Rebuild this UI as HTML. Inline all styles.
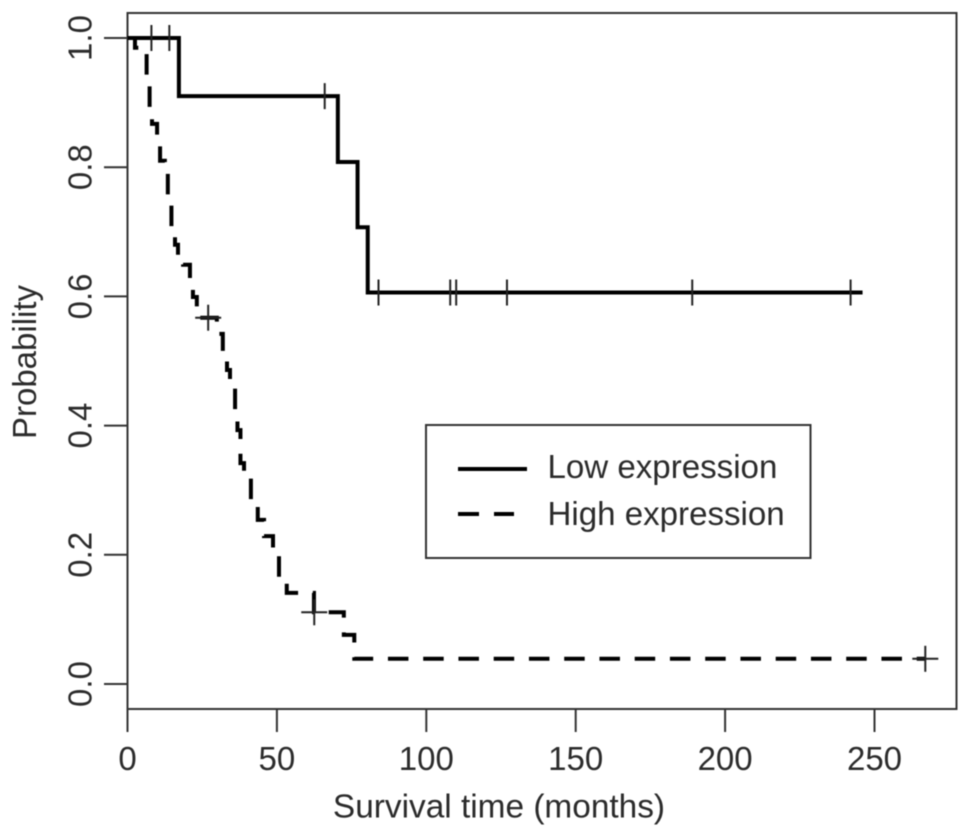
<!DOCTYPE html>
<html>
<head>
<meta charset="utf-8">
<style>
html,body{margin:0;padding:0;background:#fff;}
svg{display:block;filter:blur(0.45px);}
text{font-family:"Liberation Sans",Arial,sans-serif;fill:#2b2b2b;}
</style>
</head>
<body>
<svg id="chart" width="970" height="836" viewBox="0 0 970 836" xmlns="http://www.w3.org/2000/svg">
  <rect x="127.5" y="13" width="829" height="696" fill="none" stroke="#333" stroke-width="2"/>
  <g id="axes"></g>
  <text x="499" y="817.5" font-size="33.4" text-anchor="middle">Survival time (months)</text>
  <text transform="translate(36,362) rotate(-90)" font-size="33" text-anchor="middle">Probability</text>
  <g id="series"></g>
  <g>
    <rect x="426" y="425" width="384.5" height="133" fill="#fff" stroke="#333" stroke-width="2"/>
    <line x1="458" y1="469" x2="527" y2="469" stroke="#000" stroke-width="4"/>
    <line x1="458" y1="514" x2="527" y2="514" stroke="#000" stroke-width="4" stroke-dasharray="21 15 20 40"/>
    <text x="547.5" y="478" font-size="33.1">Low expression</text>
    <text x="547.5" y="525" font-size="33.1">High expression</text>
  </g>
</svg>
<script>
const xTicks = [0, 50, 100, 150, 200, 250];
const yTicks = ["0.0", "0.2", "0.4", "0.6", "0.8", "1.0"];
const lowTimes = [17.2, 70.4, 77, 80.4];
const lowSurv = [0.91, 0.808, 0.707, 0.606];
const lowEnd = 246;
const lowCensorTimes = [8, 14, 66, 84, 108, 110, 127, 189, 242];
const highTimes = [2.5, 6.4, 7.4, 8.2, 9.9, 10.9, 12.5, 13.5, 14.7, 15.9, 16.9, 18.6, 20.9, 21.9, 23.2, 29.9, 31.9, 33.3, 34.3, 36.0, 36.8, 37.8, 39.0, 41.3, 43.6, 45.7, 48.7, 50.7, 53.3, 62.4, 72.4, 75.9];
const highSurv = [0.985, 0.935, 0.889, 0.867, 0.842, 0.810, 0.796, 0.749, 0.703, 0.680, 0.659, 0.649, 0.622, 0.599, 0.567, 0.542, 0.505, 0.486, 0.464, 0.418, 0.393, 0.342, 0.322, 0.277, 0.254, 0.229, 0.204, 0.161, 0.141, 0.111, 0.076, 0.039];
const highEnd = 267;
const highCensorTimes = [27, 62.5, 267];

const NS = "http://www.w3.org/2000/svg";
const xScale = t => 127.5 + t * 2.988;
const yScale = p => 684 - p * 646;

function survivalAt(times, surv, t) {
  let s = 1;
  for (let i = 0; i < times.length; i++) {
    if (times[i] <= t) s = surv[i];
  }
  return s;
}
function stepPath(times, surv, end) {
  let d = "M" + xScale(0) + " " + yScale(1);
  for (let i = 0; i < times.length; i++) {
    d += "H" + xScale(times[i]) + "V" + yScale(surv[i]);
  }
  return d + "H" + xScale(end);
}
function seg(parent, x1, y1, x2, y2, color, width) {
  const l = document.createElementNS(NS, "line");
  l.setAttribute("x1", x1);
  l.setAttribute("y1", y1);
  l.setAttribute("x2", x2);
  l.setAttribute("y2", y2);
  l.setAttribute("stroke", color);
  l.setAttribute("stroke-width", width);
  parent.appendChild(l);
  return l;
}

const axes = document.getElementById("axes");
const series = document.getElementById("series");

xTicks.forEach(v => {
  const tick = seg(axes, xScale(v), 709, xScale(v), 732, "#333", 2);
  
  
  const t = document.createElementNS(NS, "text");
  t.setAttribute("x", xScale(v));
  t.setAttribute("y", 770);
  t.setAttribute("font-size", "33");
  t.setAttribute("text-anchor", "middle");
  t.textContent = v;
  
  
  axes.appendChild(t);
});
yTicks.forEach(v => {
  const y = yScale(parseFloat(v));
  const tick = seg(axes, 104, y, 127.5, y, "#333", 2);
  
  
  const t = document.createElementNS(NS, "text");
  t.setAttribute("transform", "translate(91.5," + y + ") rotate(-90)");
  t.setAttribute("font-size", "33");
  t.setAttribute("text-anchor", "middle");
  t.textContent = v;
  
  
  axes.appendChild(t);
});

const highPath = document.createElementNS(NS, "path");
highPath.setAttribute("d", stepPath(highTimes, highSurv, highEnd));
highPath.setAttribute("fill", "none");
highPath.setAttribute("stroke", "#000");
highPath.setAttribute("stroke-width", "4");
highPath.setAttribute("stroke-dasharray", "20.5 14.75");


series.appendChild(highPath);

const lowPath = document.createElementNS(NS, "path");
lowPath.setAttribute("d", stepPath(lowTimes, lowSurv, lowEnd));
lowPath.setAttribute("fill", "none");
lowPath.setAttribute("stroke", "#000");
lowPath.setAttribute("stroke-width", "4");


series.appendChild(lowPath);

lowCensorTimes.forEach(t => {
  const x = xScale(t);
  const y = yScale(survivalAt(lowTimes, lowSurv, t));
  const m = seg(series, x, y - 13, x, y + 13, "#222", 2);
  
  
});
highCensorTimes.forEach(t => {
  const x = xScale(t);
  const y = yScale(survivalAt(highTimes, highSurv, t));
  const v = seg(series, x, y - 13, x, y + 13, "#222", 2);
  
  
  const h = seg(series, x - 13, y, x + 13, y, "#222", 2);
  
  
});
</script>
</body>
</html>
